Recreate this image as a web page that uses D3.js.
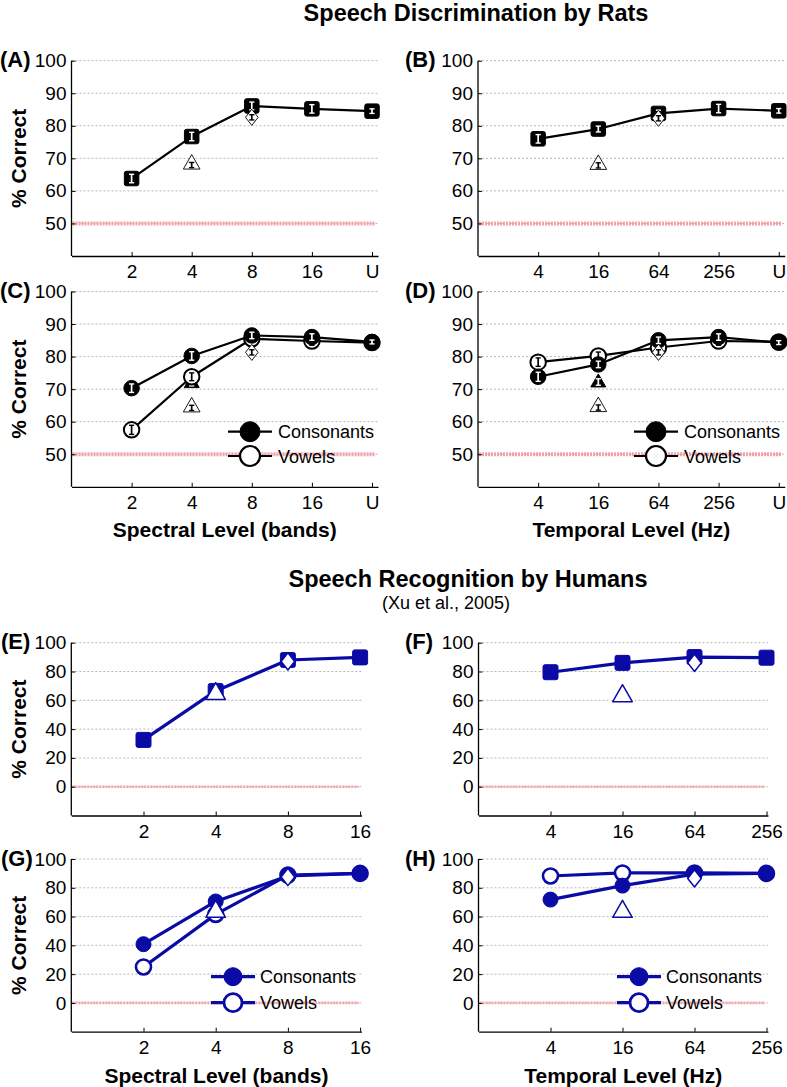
<!DOCTYPE html>
<html><head><meta charset="utf-8">
<script src="https://cdn.jsdelivr.net/npm/d3@7"></script>
<style>
body{margin:0;background:#fff;}
svg{display:block;font-family:"Liberation Sans",Arial,Helvetica,sans-serif;}
</style></head><body>
<svg id="c" width="787" height="1087"></svg>
<script>
// ---------- DATA ----------
const ratSpectralCats = ["2","4","8","16","U"];
const ratTemporalCats = ["4","16","64","256","U"];
const humSpectralCats = ["2","4","8","16"];
const humTemporalCats = ["4","16","64","256"];
const ratYTicks = [50,60,70,80,90,100];
const humYTicks = [0,20,40,60,80,100];

// Panel A (rats, spectral, all sounds)
const aAll = [63.8, 76.7, 86.1, 85.2, 84.5];
const aAllErr = [1.3, 1.3, 1.2, 1.3, 0.7];
const aTriOpen = [["4", 68.4, 0.8]];
const aDiaOpen = [["8", 82.6, 0.8]];
// Panel B (rats, temporal, all sounds)
const bAll = [76.0, 79.0, 83.8, 85.3, 84.6];
const bAllErr = [1.3, 0.9, 1.0, 1.3, 0.7];
const bTriOpen = [["16", 68.3, 0.8]];
const bDiaOpen = [["64", 82.3, 0.8]];
// Panel C (rats, spectral, consonants / vowels)
const cCons = [70.3, 80.2, 86.5, 86.0, 84.5];
const cConsErr = [1.3, 1.3, 1.0, 1.0, 0.6];
const cVow = [57.5, 73.8, 85.5, 84.8, 84.3];
const cVowErr = [1.4, 1.2, 1.0, 1.3, 0.5];
const cTriFilled = [["4", 72.0, 1.0]];
const cDiaFilled = [["8", 84.2, 0.8]];
const cTriOpen = [["4", 64.7, 0.8]];
const cDiaOpen = [["8", 81.3, 0.8]];
// Panel D (rats, temporal, consonants / vowels)
const dCons = [73.8, 77.6, 85.0, 86.0, 84.3];
const dConsErr = [1.4, 1.0, 1.0, 1.0, 0.6];
const dVow = [78.3, 80.2, 82.8, 84.8, 84.5];
const dVowErr = [1.3, 1.2, 1.0, 1.3, 0.5];
const dTriFilled = [["16", 72.2, 1.0]];
const dDiaFilled = [["64", 84.3, 0.8]];
const dTriOpen = [["16", 64.8, 0.8]];
const dDiaOpen = [["64", 81.3, 0.8]];
// Panel E (humans, spectral, all)
const eAll = [32.5, 66.5, 88.0, 89.8];
const eTriOpen = [["4", 65.0]];
const eDiaOpen = [["8", 87.0]];
// Panel F (humans, temporal, all)
const fAll = [79.5, 86.0, 90.0, 89.6];
const fTriOpen = [["16", 63.5]];
const fDiaOpen = [["64", 86.0]];
// Panel G (humans, spectral, consonants / vowels)
const gCons = [40.8, 70.5, 88.2, 90.0];
const gVow = [25.0, 61.5, 88.8, 90.0];
const gTriOpen = [["4", 64.0]];
const gDiaOpen = [["8", 87.5]];
// Panel H (humans, temporal, consonants / vowels)
const hCons = [71.8, 81.5, 89.5, 90.0];
const hVow = [88.2, 90.3, 90.3, 90.0];
const hTriOpen = [["16", 64.0]];
const hDiaOpen = [["64", 86.5]];

const legendNames = ["Consonants","Vowels"];

// ---------- DRAWING ----------
const svg = d3.select("#c");
const BLUE = "#0a0aa5";
const FONT = "'Liberation Sans',Arial,Helvetica,sans-serif";

function triPath(w,h){return `M0,${-h*0.62}L${w/2},${h*0.38}L${-w/2},${h*0.38}Z`;}
function diaPath(w,h){return `M0,${-h/2}L${w/2},0L0,${h/2}L${-w/2},0Z`;}

function marker(g, shape, filled, color, x, y, sz, sw){
  const fill = filled ? color : "#fff";
  let el;
  if (shape==="square"){
    el = g.append("rect").attr("x",x-sz/2).attr("y",y-sz/2).attr("width",sz).attr("height",sz).attr("rx",2);
  } else if (shape==="circle"){
    el = g.append("circle").attr("cx",x).attr("cy",y).attr("r",sz/2);
  } else if (shape==="triangle"){
    el = g.append("path").attr("d",triPath(sz*1.15,sz)).attr("transform",`translate(${x},${y})`);
  } else {
    el = g.append("path").attr("d",diaPath(sz*0.9,sz*1.15)).attr("transform",`translate(${x},${y})`);
  }
  el.attr("fill",fill).attr("stroke",color).attr("stroke-width",sw).attr("stroke-linejoin","round");
}

function errBar(g, x, y, yLo, yHi, color){
  g.append("line").attr("x1",x).attr("x2",x).attr("y1",yLo).attr("y2",yHi).attr("stroke",color).attr("stroke-width",1.7);
  [yLo,yHi].forEach(yy=>g.append("line").attr("x1",x-2.6).attr("x2",x+2.6).attr("y1",yy).attr("y2",yy).attr("stroke",color).attr("stroke-width",1.4));
}

function panel(o){
  const g = svg.append("g");
  const n = o.cats.length;
  const x = d3.scaleLinear().domain([0,o.xmax]).range([o.x0, o.x0 + o.xmax*o.step]);
  const y = d3.scaleLinear().domain(o.yDomain).range([o.yBottom, o.yTop]);
  const xr = x.range();
  const catX = c => x(o.cats.indexOf(c)+1);

  o.yTicks.forEach(t=>{
    g.append("line").attr("x1",xr[0]).attr("x2",xr[1]).attr("y1",y(t)).attr("y2",y(t))
      .attr("stroke","#b0b0b0").attr("stroke-width",0.9).attr("stroke-dasharray","2,2");
  });
  g.append("line").attr("x1",xr[0]+1).attr("x2",xr[1]-3).attr("y1",y(o.chance)).attr("y2",y(o.chance))
    .attr("stroke","#f4a2aa").attr("stroke-width",o.human?2.6:4).attr("stroke-dasharray","2,1");

  const ax = d3.axisBottom(x).tickValues(d3.range(1,n+1)).tickFormat(d=>o.cats[d-1])
    .tickSizeInner(-4).tickSizeOuter(0).tickPadding(9);
  const axG = g.append("g").attr("transform",`translate(0,${o.yBottom})`).call(ax);
  const ay = d3.axisLeft(y).tickValues(o.yTicks).tickSizeInner(-4).tickSizeOuter(0).tickPadding(5);
  const ayG = g.append("g").attr("transform",`translate(${o.x0},0)`).call(ay);
  [axG,ayG].forEach(a=>{
    a.select(".domain").attr("stroke","#000").attr("stroke-width",1.3);
    a.selectAll(".tick line").attr("stroke","#000").attr("stroke-width",1);
    a.selectAll(".tick text").attr("font-size",19).attr("font-family",FONT).attr("fill","#000");
  });
  ayG.select(".domain").attr("d",`M0,${o.yBottom}V${o.yTop}`);

  g.append("text").attr("x",o.labelX).attr("y",o.yTop+6.5).attr("font-size",22).attr("font-weight","bold")
    .attr("font-family",FONT).text(o.label);
  if (o.ylabel){
    const cy=(o.yTop+o.yBottom)/2;
    g.append("text").attr("transform",`translate(26,${cy}) rotate(-90)`).attr("text-anchor","middle")
      .attr("font-size",21).attr("font-weight","bold").attr("font-family",FONT).text("% Correct");
  }
  if (o.xTitle){
    g.append("text").attr("x",(xr[0]+xr[1])/2).attr("y",o.yBottom+o.xTitleDy).attr("text-anchor","middle")
      .attr("font-size",21).attr("font-weight","bold").attr("font-family",FONT).text(o.xTitle);
  }

  const col = o.color;
  const msz = o.human ? 15 : (o.series[0].shape==="circle" ? 15.5 : 14.5);
  const extraSz = o.human ? 15 : 13;
  const sw = o.human ? 2.6 : 2;

  (o.filledExtras||[]).forEach(e=>{
    e.pts.forEach(p=>{
      marker(g, e.shape, true, col, catX(p[0]), y(p[1]), extraSz, 1);
      if (p[2]!==undefined) errBar(g, catX(p[0]), y(p[1]), y(p[1]-p[2]), y(p[1]+p[2]), "#fff");
    });
  });

  const line = d3.line().x((d,i)=>x(i+1)).y(d=>y(d));
  o.series.forEach(s=>{
    g.append("path").datum(s.values).attr("d",line).attr("fill","none").attr("stroke",col)
      .attr("stroke-width",o.human?3.2:2.2).attr("stroke-linejoin","round");
  });
  o.series.slice().reverse().forEach(s=>{
    s.values.forEach((v,i)=>{
      const cx=x(i+1), cy=y(v);
      marker(g, s.shape, s.filled, col, cx, cy, msz, s.filled?1:sw);
      if (s.errs) errBar(g, cx, cy, y(v-s.errs[i]), y(v+s.errs[i]), s.filled?"#fff":"#000");
    });
  });

  (o.openExtras||[]).forEach(e=>{
    e.pts.forEach(p=>{
      const isT = e.shape==="triangle";
      const sz = isT ? (o.human?17:14.5) : (o.human?15:14);
      marker(g, e.shape, false, col, catX(p[0]), y(p[1]), sz, o.human?1.5:0.9);
      if (p[2]!==undefined){
        const off = isT?1.5:0;
        errBar(g, catX(p[0]), y(p[1])+off, y(p[1]-p[2])+off, y(p[1]+p[2])+off, "#000");
      }
    });
  });

  if (o.legend){
    const L=o.legend;
    legendNames.forEach((nm,i)=>{
      const ly=L.y[i];
      g.append("line").attr("x1",L.x0).attr("x2",L.x1).attr("y1",ly).attr("y2",ly).attr("stroke",col).attr("stroke-width",o.human?3.2:2.2);
      marker(g,"circle",i===0,col,(L.x0+L.x1)/2,ly,o.human?18:20,i===0?1:(o.human?2.8:2.2));
      g.append("text").attr("x",L.tx).attr("y",ly+6.5).attr("font-size",18).attr("font-family",FONT).text(nm);
    });
  }
}

// Titles
svg.append("text").attr("x",476).attr("y",21).attr("text-anchor","middle").attr("font-size",23.5)
  .attr("font-weight","bold").attr("font-family",FONT).text("Speech Discrimination by Rats");
svg.append("text").attr("x",468).attr("y",587).attr("text-anchor","middle").attr("font-size",23.5)
  .attr("font-weight","bold").attr("font-family",FONT).text("Speech Recognition by Humans");
svg.append("text").attr("x",446).attr("y",609).attr("text-anchor","middle").attr("font-size",18)
  .attr("font-family",FONT).text("(Xu et al., 2005)");

const ratL = {x0:71.5, step:60.1, xmax:5.1};
const ratR = {x0:478, step:60.15, xmax:5.1};
const humL = {x0:71.3, step:72.2, xmax:4.02};
const humR = {x0:478.5, step:72.0, xmax:4.02};

panel(Object.assign({}, ratL, {cats:ratSpectralCats, yTop:60.7, yBottom:256, yDomain:[40,100], yTicks:ratYTicks, chance:50,
  color:"#000", label:"(A)", labelX:0, ylabel:true,
  series:[{values:aAll, errs:aAllErr, shape:"square", filled:true}],
  openExtras:[{shape:"triangle", pts:aTriOpen},{shape:"diamond", pts:aDiaOpen}]}));
panel(Object.assign({}, ratR, {cats:ratTemporalCats, yTop:60.7, yBottom:256, yDomain:[40,100], yTicks:ratYTicks, chance:50,
  color:"#000", label:"(B)", labelX:405,
  series:[{values:bAll, errs:bAllErr, shape:"square", filled:true}],
  openExtras:[{shape:"triangle", pts:bTriOpen},{shape:"diamond", pts:bDiaOpen}]}));
panel(Object.assign({}, ratL, {cats:ratSpectralCats, yTop:291.5, yBottom:486.8, yDomain:[40,100], yTicks:ratYTicks, chance:50,
  color:"#000", label:"(C)", labelX:0, ylabel:true, xTitle:"Spectral Level (bands)", xTitleDy:50,
  series:[{values:cCons, errs:cConsErr, shape:"circle", filled:true},{values:cVow, errs:cVowErr, shape:"circle", filled:false}],
  filledExtras:[{shape:"triangle", pts:cTriFilled},{shape:"diamond", pts:cDiaFilled}],
  openExtras:[{shape:"triangle", pts:cTriOpen},{shape:"diamond", pts:cDiaOpen}],
  legend:{x0:228, x1:272, tx:278, y:[431.7,456]}}));
panel(Object.assign({}, ratR, {cats:ratTemporalCats, yTop:291.5, yBottom:486.8, yDomain:[40,100], yTicks:ratYTicks, chance:50,
  color:"#000", label:"(D)", labelX:405, xTitle:"Temporal Level (Hz)", xTitleDy:50,
  series:[{values:dCons, errs:dConsErr, shape:"circle", filled:true},{values:dVow, errs:dVowErr, shape:"circle", filled:false}],
  filledExtras:[{shape:"triangle", pts:dTriFilled},{shape:"diamond", pts:dDiaFilled}],
  openExtras:[{shape:"triangle", pts:dTriOpen},{shape:"diamond", pts:dDiaOpen}],
  legend:{x0:634, x1:678, tx:684, y:[431.7,456]}}));
panel(Object.assign({}, humL, {human:true, cats:humSpectralCats, yTop:642.7, yBottom:815.5, yDomain:[-20,100], yTicks:humYTicks, chance:0,
  color:BLUE, label:"(E)", labelX:1, ylabel:true,
  series:[{values:eAll, shape:"square", filled:true}],
  openExtras:[{shape:"triangle", pts:eTriOpen},{shape:"diamond", pts:eDiaOpen}]}));
panel(Object.assign({}, humR, {human:true, cats:humTemporalCats, yTop:642.7, yBottom:815.5, yDomain:[-20,100], yTicks:humYTicks, chance:0,
  color:BLUE, label:"(F)", labelX:405,
  series:[{values:fAll, shape:"square", filled:true}],
  openExtras:[{shape:"triangle", pts:fTriOpen},{shape:"diamond", pts:fDiaOpen}]}));
panel(Object.assign({}, humL, {human:true, cats:humSpectralCats, yTop:859, yBottom:1031.7, yDomain:[-20,100], yTicks:humYTicks, chance:0,
  color:BLUE, label:"(G)", labelX:1, ylabel:true, xTitle:"Spectral Level (bands)", xTitleDy:51,
  series:[{values:gCons, shape:"circle", filled:true},{values:gVow, shape:"circle", filled:false}],
  openExtras:[{shape:"triangle", pts:gTriOpen},{shape:"diamond", pts:gDiaOpen}],
  legend:{x0:211, x1:255, tx:260, y:[976.7,1002.7]}}));
panel(Object.assign({}, humR, {human:true, cats:humTemporalCats, yTop:859, yBottom:1031.7, yDomain:[-20,100], yTicks:humYTicks, chance:0,
  color:BLUE, label:"(H)", labelX:405, xTitle:"Temporal Level (Hz)", xTitleDy:51,
  series:[{values:hCons, shape:"circle", filled:true},{values:hVow, shape:"circle", filled:false}],
  openExtras:[{shape:"triangle", pts:hTriOpen},{shape:"diamond", pts:hDiaOpen}],
  legend:{x0:617, x1:661, tx:666, y:[976.7,1002.7]}}));
</script>
</body></html>
